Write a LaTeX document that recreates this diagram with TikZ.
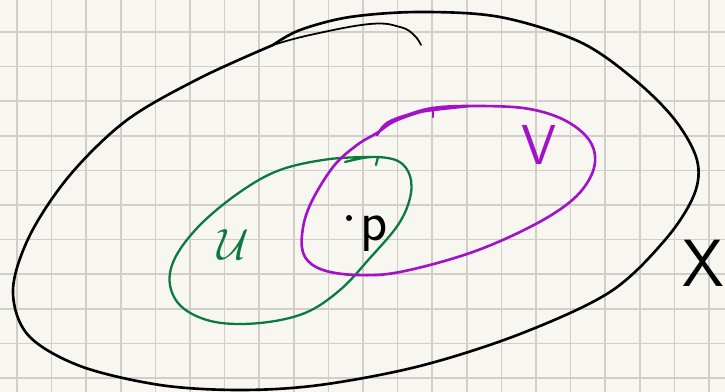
\documentclass[tikz,border=0pt]{standalone}
\usepackage{fontspec}
\definecolor{papir}{RGB}{248,246,241}
\definecolor{papirlinje}{RGB}{210,205,198}
\definecolor{gronn}{RGB}{10,122,62}
\definecolor{lilla}{RGB}{161,18,200}

\begin{document}
\begin{tikzpicture}[
  x=0.02cm, y=-0.02cm,
  rute/.style={draw=papirlinje, line width=0.85pt},
  strek/.style={line width=1.5pt, line cap=round, line join=round},
  bokstav/.style={inner sep=0pt, font=\sffamily\fontsize{32}{32}\selectfont}
]
% papiret
\fill[papir] (0,0) rectangle (725,392);
\useasboundingbox (0,0) rectangle (725,392);
\foreach \k in {0,...,20}
  \draw[rute] ({17+34.6*\k},0) -- ({17+34.6*\k},392);
\foreach \k in {0,...,10}
  \draw[rute] (0,{32+34.6*\k}) -- (725,{32+34.6*\k});

% mengden X
\draw[strek] plot[smooth, tension=0.55] coordinates {
  (273,45) (200,78) (127,120) (70,175) (30,235) (13,290) (28,335)
  (80,366) (160,385) (240,390) (320,385) (420,366) (520,334)
  (610,292) (665,240) (694,195) (697,160) (675,120) (635,80)
  (580,42) (500,17) (420,12) (350,17) (300,30) (273,45)};
\draw[strek, line width=1pt] plot[smooth, tension=0.7] coordinates {
  (273,45) (310,35) (370,24) (400,27) (414,35) (421,45)};

% mengden U
\draw[strek, draw=gronn, line width=1.3pt] plot[smooth, tension=0.6] coordinates {
  (345,162) (372,157) (398,161) (410,176) (410,198) (398,225)
  (370,258) (340,290) (305,313) (260,323) (215,322) (183,308)
  (170,285) (175,258) (200,225) (240,192) (280,170) (330,159)
  (378,157)};
\draw[strek, draw=gronn, line width=1.3pt] (378,157) -- (376,165);

% mengden V
\draw[strek, draw=lilla] plot[smooth, tension=0.6] coordinates {
  (377,135) (387,123) (407,115) (433,108) (470,106) (523,108) (560,118)
  (585,135) (595,155) (590,178) (570,202) (530,227) (470,253)
  (400,272) (357,275) (323,270) (305,257) (302,235) (310,205)
  (333,167) (357,145) (377,133) (393,122) (417,113) (433,110) (470,106)};
\draw[strek, draw=lilla] (433,108) -- (433,117);

% punktet og navnene
\fill (349,218) circle (3);
\node[bokstav] (p) at (374,234) {p};
\node[bokstav, text=gronn, font=\fontsize{24}{24}\selectfont] (u) at (233,245) {$\mathcal{U}$};
\node[bokstav, text=lilla] (v) at (539,145) {V};
\node[bokstav, font=\sffamily\fontsize{38}{38}\selectfont] (x) at (703,263) {X};
\end{tikzpicture}
\end{document}
